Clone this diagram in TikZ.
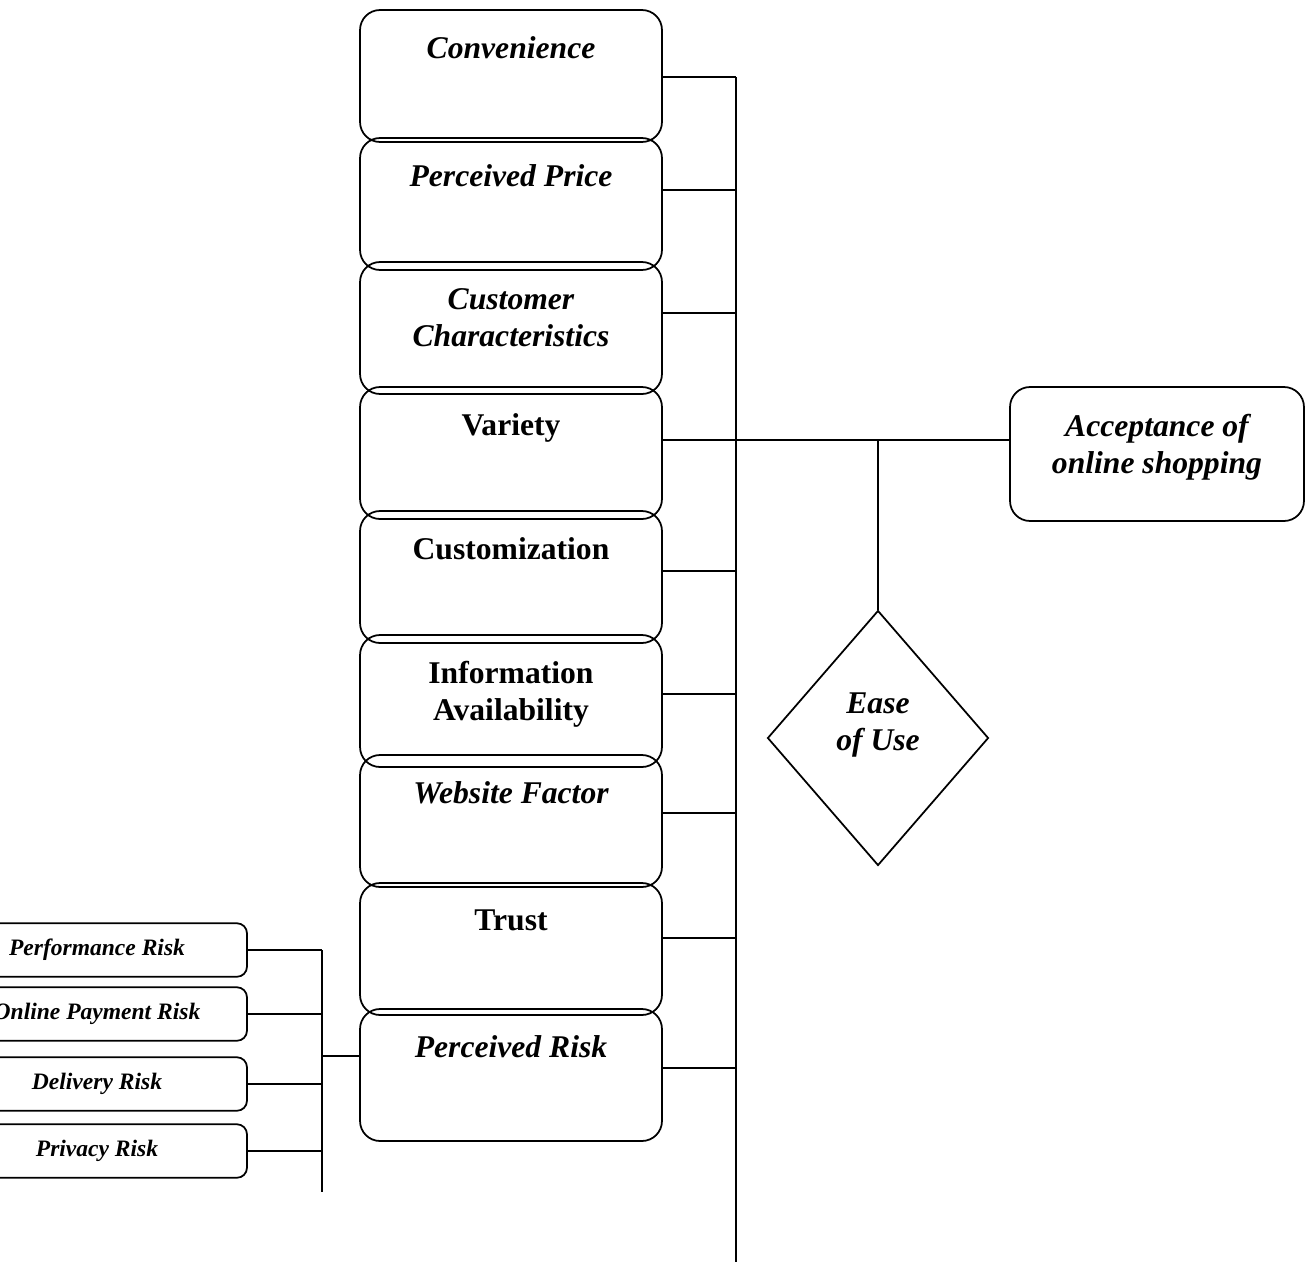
\documentclass[tikz,border=0pt]{standalone}
\usepackage{fontspec}
\setmainfont{Liberation Serif}
\usetikzlibrary{shapes.geometric,positioning}
\tikzstyle{line}      = [line width=1pt]
\tikzstyle{factor}    = [rectangle, draw, line, rounded corners=0.4cm, minimum width=6.04cm, minimum height=2.64cm, inner sep=0pt]
\tikzstyle{outcome}   = [factor, minimum width=5.88cm, minimum height=2.68cm]
\tikzstyle{riskbox}   = [rectangle, draw, line, rounded corners=0.2cm, minimum width=6cm, minimum height=1.07cm, inner sep=0pt, font=\fontsize{13.4}{16}\selectfont\bfseries\itshape]
\tikzstyle{moderator} = [diamond, draw, line, minimum width=4.42cm, minimum height=5.1cm, inner sep=0pt]
\tikzstyle{ttl}       = [anchor=north, yshift=-0.54cm, align=center, inner sep=0pt, font=\fontsize{18}{21}\selectfont\bfseries\itshape]
\tikzstyle{ttlup}     = [ttl, font=\fontsize{18}{21}\selectfont\bfseries]
\begin{document}
\begin{tikzpicture}[x=0.02cm, y=-0.02cm]
  \useasboundingbox (0,0) rectangle (1306,1262);

  %Factors
  \node[factor, label={[ttl]north:Convenience}] (conv) at (511,76) {};
  \node[factor, label={[ttl]north:Perceived Price}] (ppr) at (511,204) {};
  \node[factor, label={[ttl]north:Customer\\Characteristics}] (cust) at (511,328) {};
  \node[factor, label={[ttlup]north:Variety}] (var) at (511,453) {};
  \node[factor, label={[ttlup]north:Customization}] (cuz) at (511,577) {};
  \node[factor, label={[ttlup]north:Information\\Availability}] (info) at (511,701) {};
  \node[factor, label={[ttl]north:Website Factor}] (web) at (511,821) {};
  \node[factor, label={[ttlup]north:Trust}] (trust) at (511,949) {};
  \node[factor, label={[ttl]north:Perceived Risk}] (risk) at (511,1075) {};

  %Outcome and moderator
  \node[outcome, label={[ttl, yshift=-0.02cm]north:Acceptance of\\online shopping}] (acc) at (1157,454) {};
  \node[moderator, label={[ttl, anchor=center, yshift=0.8cm]center:Ease\\of Use}] (ease) at (878,738) {};

  %Risk types
  \node[riskbox] (perf) at (97,950) {Performance Risk};
  \node[riskbox] (pay) at (97,1014) {Online Payment Risk};
  \node[riskbox] (deliv) at (97,1084) {Delivery Risk};
  \node[riskbox] (priv) at (97,1151) {Privacy Risk};

  %Main bus
  \coordinate (bustop) at (736,77);
  \coordinate (busend) at (736,1262);
  \draw[line] (bustop) -- (busend);
  \foreach \n/\y in {conv/77,ppr/190,cust/313,var/440,cuz/571,info/694,web/813,trust/938,risk/1068}
    \draw[line] (\n.east |- 0,\y) -- (bustop |- 0,\y);

  \coordinate (join) at (878,440);
  \draw[line] (bustop |- join) -- (acc.west |- join);
  \draw[line] (join) -- (ease.north);

  %Risk bus
  \coordinate (rtop) at (322,950);
  \coordinate (rend) at (322,1192);
  \draw[line] (rtop) -- (rend);
  \foreach \n in {perf,pay,deliv,priv}
    \draw[line] (\n.east) -- (rtop |- \n.east);
  \draw[line] (rtop |- 0,1056) -- (risk.west |- 0,1056);
\end{tikzpicture}
\end{document}
